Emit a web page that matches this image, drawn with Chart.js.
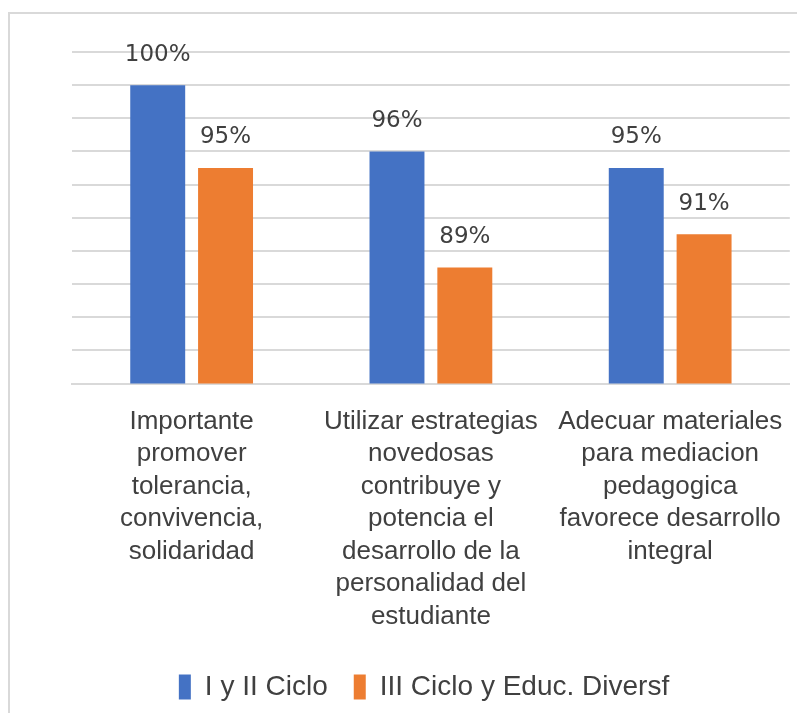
<!DOCTYPE html>
<html>
<head>
<meta charset="utf-8">
<script src="https://cdn.jsdelivr.net/npm/chart.js@4.4.0/dist/chart.umd.min.js"></script>
<style>
  html, body { margin: 0; padding: 0; background: #fff; overflow: hidden; }
  .frame { position: absolute; left: 8px; top: 12px; width: 900px; height: 800px; border: 2px solid #d9d9d9; }
  .graphContainer { position: absolute; left: 0; top: 0; width: 797px; height: 713px; }
</style>
</head>
<body>
<div class="frame"></div>
<div class="graphContainer"><canvas id="myChart"></canvas></div>
<script>
const labels = [
  ["Importante", "promover", "tolerancia,", "convivencia,", "solidaridad"],
  ["Utilizar estrategias", "novedosas", "contribuye y", "potencia el", "desarrollo de la", "personalidad del", "estudiante"],
  ["Adecuar materiales", "para mediacion", "pedagogica", "favorece desarrollo", "integral"]
];
const cicloIyII = [100, 96, 95];
const cicloIII = [95, 89, 91];

const valueLabels = {
  id: "valueLabels",
  afterDatasetsDraw(chart) {
    const ctx = chart.ctx;
    ctx.save();
    ctx.font = "23px 'DejaVu Sans'";
    ctx.fillStyle = "#404040";
    ctx.textAlign = "center";
    ctx.textBaseline = "bottom";
    chart.data.datasets.forEach((ds, i) => {
      chart.getDatasetMeta(i).data.forEach((bar, j) => {
        ctx.fillText(ds.data[j] + "%", bar.x, bar.y - 19);
      });
    });
    ctx.restore();
  }
};

const labelFont = "'Liberation Sans', Arial, sans-serif";

new Chart(document.getElementById("myChart"), {
  type: "bar",
  data: {
    labels: labels,
    datasets: [
      { label: "I y II Ciclo", data: cicloIyII, backgroundColor: "#4472C4" },
      { label: "III Ciclo y Educ. Diversf", data: cicloIII, backgroundColor: "#ED7D31" }
    ]
  },
  options: {
    responsive: true,
    maintainAspectRatio: false,
    animation: false,
    layout: { padding: { left: 56, right: 5, top: 52, bottom: 2 } },
    datasets: { bar: { categoryPercentage: 0.567, barPercentage: 0.81 } },
    scales: {
      x: {
        grid: { display: false },
        border: { color: "#d9d9d9", width: 2 },
        ticks: {
          color: "#404040",
          maxRotation: 0,
          autoSkip: false,
          padding: 14,
          font: { family: labelFont, size: 26, lineHeight: 1.25 }
        }
      },
      y: {
        min: 82,
        max: 102,
        afterFit: (scale) => { scale.width = 16; },
        ticks: { display: false, stepSize: 2 },
        border: { display: false },
        grid: { color: "#d9d9d9", lineWidth: 2, drawTicks: false }
      }
    },
    plugins: {
      legend: {
        position: "bottom",
        labels: {
          color: "#404040",
          boxWidth: 12,
          boxHeight: 25,
          padding: 26,
          font: { family: labelFont, size: 28 }
        }
      },
      tooltip: { enabled: false }
    }
  },
  plugins: [valueLabels]
});
</script>
</body>
</html>
